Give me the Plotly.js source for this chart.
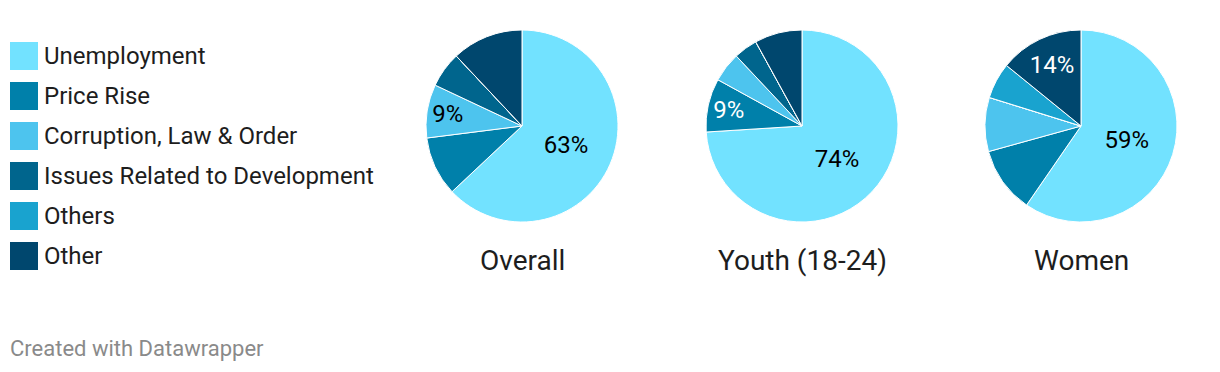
<!DOCTYPE html>
<html>
<head>
<meta charset="utf-8">
<script src="https://cdn.plot.ly/plotly-3.0.1.min.js"></script>
<style>
html,body{margin:0;padding:0;background:#fff;}
#chart{width:1220px;height:372px;}
</style>
</head>
<body>
<div id="chart"></div>
<script>
// ---- data ----
const categories = ['Unemployment', 'Price Rise', 'Corruption, Law & Order', 'Issues Related to Development', 'Others', 'Other'];
const colors = ['#72e2ff', '#0080aa', '#4dc4ee', '#00658d', '#19a3cf', '#00476e'];
const textColors = ['#000000', '#ffffff', '#000000', '#ffffff', '#ffffff', '#ffffff'];

const chartTitles = ['Overall', 'Youth (18-24)', 'Women'];
const overall = [63, 10, 9, 6, 0, 12];
const youth = [74, 9, 5, 4, 0, 8];
const women = [59, 11, 9, 0, 6, 14];
const series = [overall, youth, women];
// which slices carry a visible percentage label
const labelled = [
  ['Unemployment', 'Corruption, Law & Order'],
  ['Unemployment', 'Price Rise'],
  ['Unemployment', 'Other']
];

// ---- layout geometry (pixels) ----
const W = 1220, H = 372;
const centers = [522, 802, 1081];
const cy = 126, R = 96;
const FONT = 'Roboto, "Open Sans", sans-serif';

const traces = series.map((vals, k) => ({
  type: 'pie',
  labels: categories,
  values: vals,
  sort: false,
  direction: 'clockwise',
  rotation: 0,
  marker: {colors: colors, line: {color: '#ffffff', width: 1}},
  textposition: 'inside',
  insidetextorientation: 'horizontal',
  texttemplate: categories.map(c => labelled[k].includes(c) ? '%{value}%' : ''),
  insidetextfont: {family: FONT, size: 24, color: textColors},
  hoverinfo: 'label+value',
  showlegend: false,
  domain: {
    x: [(centers[k] - R) / W, (centers[k] + R) / W],
    y: [1 - (cy + R) / H, 1 - (cy - R) / H]
  }
}));

const annotations = [];
const shapes = [];

chartTitles.forEach((t, k) => {
  annotations.push({
    text: t, xref: 'paper', yref: 'paper',
    x: centers[k] / W, y: 1 - 260 / H,
    xanchor: 'center', yanchor: 'middle', showarrow: false,
    font: {family: FONT, size: 28, color: '#1d1d1d'}
  });
});

// legend built from categories/colors
categories.forEach((c, i) => {
  const top = 42 + i * 40;
  shapes.push({
    type: 'rect', xref: 'paper', yref: 'paper',
    x0: 10 / W, x1: 38 / W, y0: 1 - (top + 28) / H, y1: 1 - top / H,
    fillcolor: colors[i], line: {width: 0}
  });
  annotations.push({
    text: c, xref: 'paper', yref: 'paper',
    x: 42 / W, y: 1 - (top + 14) / H,
    xanchor: 'left', yanchor: 'middle', showarrow: false,
    font: {family: FONT, size: 24, color: '#1d1d1d'}
  });
});

annotations.push({
  text: 'Created with Datawrapper', xref: 'paper', yref: 'paper',
  x: 8 / W, y: 1 - 348 / H, xanchor: 'left', yanchor: 'middle', showarrow: false,
  font: {family: FONT, size: 22, color: '#8a8a8a'}
});

const layout = {
  width: W, height: H,
  margin: {l: 0, r: 0, t: 0, b: 0},
  paper_bgcolor: '#ffffff',
  font: {family: FONT},
  showlegend: false,
  annotations: annotations,
  shapes: shapes
};

Plotly.newPlot('chart', traces, layout, {displayModeBar: false, staticPlot: true});
</script>
</body>
</html>
